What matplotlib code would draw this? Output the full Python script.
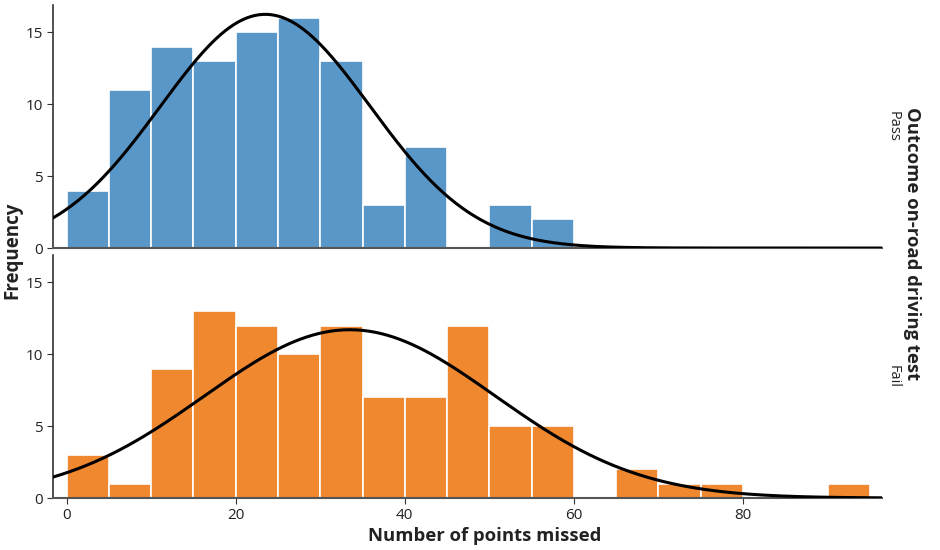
import numpy as np
import matplotlib
matplotlib.use("Agg")
import matplotlib.pyplot as plt

plt.rcParams['font.family'] = ['Open Sans', 'DejaVu Sans']

bin_edges = list(range(0, 100, 5))  # 0..95
pass_counts = [4, 11, 14, 13, 15, 16, 13, 3, 7, 0, 3, 2, 0, 0, 0, 0, 0, 0, 0]
fail_counts = [3, 1, 9, 13, 12, 10, 12, 7, 7, 12, 5, 5, 0, 2, 1, 1, 0, 0, 1]
pass_mean, pass_sd = 23.5, 12.4
fail_mean, fail_sd = 33.5, 17.2
x_ticks = [0, 20, 40, 60, 80]
y_ticks = [0, 5, 10, 15]
panels = ["Pass", "Fail"]
colors = ["#5A97C9", "#F0882F"]

fig = plt.figure(figsize=(9.4, 5.5), dpi=100)
ax1 = fig.add_axes([0.0564, 0.549, 0.8816, 0.442])
ax2 = fig.add_axes([0.0564, 0.0945, 0.8816, 0.4415])

xs = np.linspace(-1.6, 96.4, 400)
bw = 5
for ax, counts, mu, sd, col, lab in [
    (ax1, pass_counts, pass_mean, pass_sd, colors[0], panels[0]),
    (ax2, fail_counts, fail_mean, fail_sd, colors[1], panels[1]),
]:
    lefts = bin_edges[:-1]
    ax.bar(lefts, counts, width=bw, align='edge', color=col,
           edgecolor='white', linewidth=1.2, zorder=2)
    n = sum(counts)
    amp = n * bw / (sd * np.sqrt(2 * np.pi))
    ax.plot(xs, amp * np.exp(-(xs - mu) ** 2 / (2 * sd ** 2)),
            color='black', lw=2.2, zorder=3)
    ax.set_xlim(-1.6, 96.4)
    ax.set_ylim(0, 16.9)
    ax.set_yticks(y_ticks)
    for s in ['top', 'right']:
        ax.spines[s].set_visible(False)
    ax.spines['left'].set_color('#333333')
    ax.spines['bottom'].set_color('#555555')
    ax.spines['left'].set_linewidth(1.2)
    ax.spines['bottom'].set_linewidth(1.5)
    ax.tick_params(axis='y', labelsize=11, length=4, colors='#333333',
                   labelcolor='#222222')
    ax.text(1.005, 0.5, lab, transform=ax.transAxes, rotation=-90,
            ha='left', va='center', fontsize=10.5, color='#222222')

ax1.set_xticks([])
ax2.set_xticks(x_ticks)
ax2.tick_params(axis='x', labelsize=11, length=4, colors='#333333',
                labelcolor='#222222')

fig.text(0.013, 0.545, "Frequency", rotation=90, ha='center', va='center',
         fontsize=13.5, fontweight='bold', color='#222222')
fig.text(0.516, 0.026, "Number of points missed", ha='center', va='center',
         fontsize=13.3, fontweight='bold', color='#222222')
fig.text(0.970, 0.558, "Outcome on-road driving test", rotation=-90,
         ha='center', va='center', fontsize=13.3, fontweight='bold',
         color='#222222')

fig.savefig("out.png", dpi=100)
